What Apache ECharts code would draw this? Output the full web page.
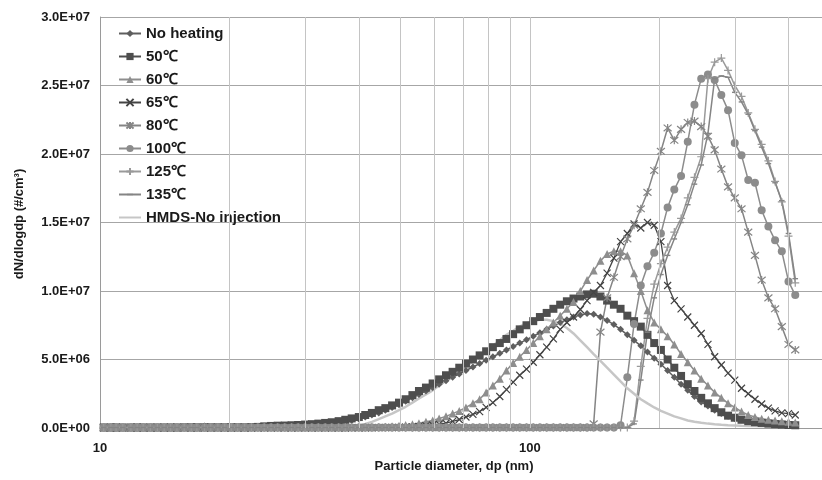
<!DOCTYPE html>
<html>
<head>
<meta charset="utf-8">
<script src="https://cdn.jsdelivr.net/npm/echarts@6/dist/echarts.min.js"></script>
<style>
html, body { margin: 0; padding: 0; background: #fff; }
#chart { width: 822px; height: 480px; }
</style>
</head>
<body>
<div id="chart"></div>
<script>
// SMPS bin mid diameters (nm), 64 channels/decade
var diameters = [
	10.2, 10.6, 10.9, 11.3, 11.8, 12.2, 12.6, 13.1, 13.6, 14.1,
	14.6, 15.1, 15.7, 16.3, 16.8, 17.5, 18.1, 18.8, 19.5, 20.2,
	20.9, 21.7, 22.5, 23.3, 24.1, 25.0, 25.9, 26.9, 27.9, 28.9,
	30.0, 31.1, 32.2, 33.4, 34.6, 35.9, 37.2, 38.5, 40.0, 41.4,
	42.9, 44.5, 46.1, 47.8, 49.6, 51.4, 53.3, 55.2, 57.3, 59.4,
	61.5, 63.8, 66.1, 68.5, 71.0, 73.7, 76.4, 79.1, 82.0, 85.1,
	88.2, 91.4, 94.7, 98.2, 101.8, 105.5, 109.4, 113.4, 117.6, 121.9,
	126.3, 131.0, 135.8, 140.7, 145.9, 151.2, 156.8, 162.5, 168.5, 174.7,
	181.1, 187.7, 194.6, 201.7, 209.1, 216.7, 224.7, 232.9, 241.4, 250.3,
	259.5, 269.0, 278.8, 289.0, 299.6, 310.6, 322.0, 333.8, 346.0, 358.7,
	371.8, 385.4, 399.5, 414.2
];

// dN/dlogdp in units of 1E+06 #/cm3
var noHeating = [
	0.03, 0.03, 0.03, 0.03, 0.03, 0.03, 0.03, 0.03, 0.03, 0.03,
	0.03, 0.03, 0.03, 0.04, 0.06, 0.15, 0.05, 0.03, 0.03, 0.04,
	0.04, 0.05, 0.05, 0.06, 0.06, 0.07, 0.08, 0.09, 0.1, 0.11,
	0.13, 0.16, 0.2, 0.25, 0.3, 0.36, 0.45, 0.55, 0.65, 0.8,
	0.95, 1.1, 1.3, 1.5, 1.7, 1.95, 2.2, 2.45, 2.7, 2.95,
	3.2, 3.45, 3.7, 3.95, 4.2, 4.45, 4.7, 4.95, 5.2, 5.45,
	5.7, 5.95, 6.2, 6.45, 6.7, 6.95, 7.2, 7.45, 7.7, 7.9,
	8.1, 8.25, 8.35, 8.3, 8.1, 7.85, 7.55, 7.2, 6.8, 6.4,
	6.0, 5.55, 5.1, 4.65, 4.2, 3.7, 3.2, 2.75, 2.3, 1.9,
	1.6, 1.3, 1.05, 0.85, 0.7, 0.6, 0.5, 0.45, 0.4, 0.37,
	0.34, 0.32, 0.3, 0.28
];
var t50 = [
	0.04, 0.04, 0.04, 0.04, 0.04, 0.04, 0.04, 0.04, 0.04, 0.04,
	0.04, 0.04, 0.05, 0.05, 0.05, 0.05, 0.05, 0.05, 0.05, 0.05,
	0.05, 0.05, 0.06, 0.08, 0.12, 0.15, 0.17, 0.18, 0.2, 0.22,
	0.25, 0.28, 0.32, 0.37, 0.42, 0.5, 0.6, 0.7, 0.8, 0.95,
	1.1, 1.3, 1.45, 1.65, 1.85, 2.1, 2.4, 2.7, 2.95, 3.25,
	3.55, 3.85, 4.1, 4.4, 4.7, 5.0, 5.3, 5.6, 5.9, 6.2,
	6.5, 6.85, 7.2, 7.5, 7.8, 8.1, 8.4, 8.7, 9.0, 9.25,
	9.45, 9.6, 9.75, 9.8, 9.6, 9.3, 9.0, 8.7, 8.2, 7.8,
	7.4, 6.8, 6.2, 5.7, 5.0, 4.4, 3.8, 3.2, 2.7, 2.2,
	1.8, 1.45, 1.15, 0.9, 0.75, 0.6, 0.5, 0.42, 0.37, 0.32,
	0.28, 0.25, 0.22, 0.2
];
var t60 = [
	0.03, 0.03, 0.03, 0.03, 0.03, 0.03, 0.03, 0.03, 0.03, 0.03,
	0.03, 0.03, 0.03, 0.03, 0.03, 0.03, 0.03, 0.03, 0.03, 0.03,
	0.03, 0.03, 0.03, 0.03, 0.03, 0.03, 0.03, 0.03, 0.03, 0.03,
	0.03, 0.03, 0.03, 0.03, 0.04, 0.04, 0.04, 0.05, 0.05, 0.05,
	0.06, 0.08, 0.1, 0.13, 0.17, 0.22, 0.28, 0.35, 0.45, 0.55,
	0.7, 0.85, 1.05, 1.25, 1.5, 1.8, 2.1, 2.6, 3.1, 3.6,
	4.2, 4.75, 5.2, 5.7, 6.2, 6.7, 7.2, 7.7, 8.2, 8.7,
	9.2, 10.0, 10.8, 11.5, 12.2, 12.7, 12.9, 12.9, 12.6, 11.3,
	10.0, 8.6, 7.7, 7.2, 6.7, 6.1, 5.4, 4.8, 4.2, 3.6,
	3.1, 2.6, 2.2, 1.8, 1.5, 1.2, 0.95, 0.8, 0.68, 0.6,
	0.55, 0.5, 0.45, 0.4
];
var t65 = [
	0.02, 0.02, 0.02, 0.02, 0.02, 0.02, 0.02, 0.02, 0.02, 0.02,
	0.02, 0.02, 0.02, 0.02, 0.02, 0.02, 0.02, 0.02, 0.02, 0.02,
	0.02, 0.02, 0.02, 0.02, 0.02, 0.02, 0.02, 0.02, 0.02, 0.02,
	0.02, 0.02, 0.02, 0.02, 0.02, 0.02, 0.02, 0.02, 0.02, 0.02,
	0.03, 0.03, 0.04, 0.04, 0.05, 0.06, 0.08, 0.12, 0.17, 0.22,
	0.28, 0.35, 0.48, 0.62, 0.8, 1.0, 1.2, 1.5, 1.85, 2.3,
	2.8, 3.35, 3.85, 4.3, 4.8, 5.35, 5.9, 6.5, 7.2, 7.7,
	8.1, 8.65, 9.3, 9.9, 10.4, 11.3, 12.4, 13.6, 14.2, 14.9,
	14.6, 15.0, 14.8, 13.6, 10.4, 9.3, 8.7, 8.1, 7.5, 6.9,
	6.1, 5.2, 4.6, 4.0, 3.5, 2.9, 2.5, 2.1, 1.75, 1.45,
	1.25, 1.1, 1.05, 0.95
];
var t80 = [
	0.03, 0.03, 0.03, 0.03, 0.03, 0.03, 0.03, 0.03, 0.03, 0.03,
	0.03, 0.03, 0.03, 0.03, 0.03, 0.03, 0.03, 0.03, 0.03, 0.03,
	0.03, 0.03, 0.03, 0.03, 0.03, 0.03, 0.03, 0.03, 0.03, 0.03,
	0.03, 0.03, 0.03, 0.03, 0.03, 0.03, 0.03, 0.03, 0.03, 0.03,
	0.03, 0.03, 0.03, 0.03, 0.03, 0.03, 0.03, 0.03, 0.03, 0.03,
	0.03, 0.03, 0.03, 0.03, 0.03, 0.03, 0.03, 0.03, 0.03, 0.03,
	0.03, 0.03, 0.03, 0.03, 0.03, 0.03, 0.03, 0.03, 0.03, 0.03,
	0.03, 0.03, 0.03, 0.3, 7.0, 9.5, 11.0, 12.5, 13.8, 14.8,
	16.0, 17.2, 18.8, 20.2, 21.9, 21.0, 21.8, 22.3, 22.4, 22.0,
	21.3, 20.3, 18.9, 17.6, 16.8, 16.0, 14.3, 12.6, 10.8, 9.5,
	8.7, 7.4, 6.1, 5.7
];
var t100 = [
	0.03, 0.03, 0.03, 0.03, 0.03, 0.03, 0.03, 0.03, 0.03, 0.03,
	0.03, 0.03, 0.03, 0.03, 0.03, 0.03, 0.03, 0.03, 0.03, 0.03,
	0.03, 0.03, 0.03, 0.03, 0.03, 0.03, 0.03, 0.03, 0.03, 0.03,
	0.03, 0.03, 0.03, 0.03, 0.03, 0.03, 0.03, 0.03, 0.03, 0.03,
	0.03, 0.03, 0.03, 0.03, 0.03, 0.03, 0.03, 0.03, 0.03, 0.03,
	0.03, 0.03, 0.03, 0.03, 0.03, 0.03, 0.03, 0.03, 0.03, 0.03,
	0.03, 0.03, 0.03, 0.03, 0.03, 0.03, 0.03, 0.03, 0.03, 0.03,
	0.03, 0.03, 0.03, 0.03, 0.03, 0.03, 0.03, 0.2, 3.7, 7.6,
	10.4, 11.8, 12.8, 14.2, 16.1, 17.4, 18.4, 20.9, 23.6, 25.5,
	25.8, 25.4, 24.3, 23.2, 20.8, 19.9, 18.1, 17.9, 15.9, 14.7,
	13.7, 12.9, 10.7, 9.7
];
var t125 = [
	0.04, 0.04, 0.04, 0.04, 0.04, 0.04, 0.04, 0.04, 0.04, 0.04,
	0.04, 0.04, 0.04, 0.04, 0.04, 0.04, 0.04, 0.04, 0.04, 0.04,
	0.04, 0.04, 0.04, 0.04, 0.04, 0.04, 0.04, 0.04, 0.04, 0.04,
	0.04, 0.04, 0.04, 0.04, 0.04, 0.04, 0.04, 0.04, 0.04, 0.04,
	0.04, 0.04, 0.04, 0.04, 0.04, 0.04, 0.04, 0.04, 0.04, 0.04,
	0.04, 0.04, 0.04, 0.04, 0.04, 0.04, 0.04, 0.04, 0.04, 0.04,
	0.04, 0.04, 0.04, 0.04, 0.04, 0.04, 0.04, 0.04, 0.04, 0.04,
	0.04, 0.04, 0.04, 0.04, 0.04, 0.04, 0.04, 0.04, 0.04, 0.5,
	4.5, 8.0, 10.5, 12.0, 13.2, 14.3, 15.3, 16.8, 18.3, 19.8,
	25.5, 26.7, 27.0, 26.1, 25.0, 24.2, 23.0, 21.8, 20.7, 19.5,
	18.0, 16.5, 14.0, 10.6
];
var t135 = [
	0.04, 0.04, 0.04, 0.04, 0.04, 0.04, 0.04, 0.04, 0.04, 0.04,
	0.04, 0.04, 0.04, 0.04, 0.04, 0.04, 0.04, 0.04, 0.04, 0.04,
	0.04, 0.04, 0.04, 0.04, 0.04, 0.04, 0.04, 0.04, 0.04, 0.04,
	0.04, 0.04, 0.04, 0.04, 0.04, 0.04, 0.04, 0.04, 0.04, 0.04,
	0.04, 0.04, 0.04, 0.04, 0.04, 0.04, 0.04, 0.04, 0.04, 0.04,
	0.04, 0.04, 0.04, 0.04, 0.04, 0.04, 0.04, 0.04, 0.04, 0.04,
	0.04, 0.04, 0.04, 0.04, 0.04, 0.04, 0.04, 0.04, 0.04, 0.04,
	0.04, 0.04, 0.04, 0.04, 0.04, 0.04, 0.04, 0.04, 0.04, 0.3,
	3.5, 7.0, 9.5, 11.2, 12.6, 13.8, 15.0, 16.3, 17.8, 19.2,
	21.5, 25.5, 25.7, 25.6, 24.5, 23.8, 22.9, 21.7, 20.5, 19.3,
	17.9, 16.6, 14.2, 10.9
];
var hmdsNoInjection = [
	0.03, 0.03, 0.03, 0.03, 0.03, 0.03, 0.03, 0.03, 0.03, 0.03,
	0.03, 0.03, 0.03, 0.03, 0.03, 0.03, 0.03, 0.03, 0.03, 0.03,
	0.03, 0.03, 0.03, 0.03, 0.03, 0.03, 0.03, 0.03, 0.03, 0.03,
	0.03, 0.03, 0.03, 0.03, 0.05, 0.08, 0.12, 0.16, 0.2, 0.3,
	0.45, 0.65, 0.85, 1.05, 1.3, 1.55, 1.85, 2.15, 2.45, 2.75,
	3.1, 3.45, 3.8, 4.15, 4.5, 4.85, 5.2, 5.6, 6.0, 6.4,
	6.8, 7.1, 7.4, 7.65, 7.8, 7.9, 7.9, 7.8, 7.6, 7.3,
	6.9, 6.4, 5.9, 5.4, 4.9, 4.4, 3.9, 3.4, 2.9, 2.5,
	2.1, 1.8, 1.5, 1.25, 1.05, 0.85, 0.7, 0.55, 0.45, 0.38,
	0.32, 0.27, 0.23, 0.2, 0.18, 0.16, 0.15, 0.14, 0.13, 0.12,
	0.11, 0.1, 0.1, 0.1
];

var seriesNames = ['No heating', '50℃', '60℃', '65℃', '80℃', '100℃', '125℃', '135℃', 'HMDS-No injection'];
var yTicks = [0, 5, 10, 15, 20, 25, 30];
var minorGridX = [20, 30, 40, 50, 60, 70, 80, 90, 100, 200, 300, 400];

var FONT = "'Liberation Sans', Arial, sans-serif";

// 3.0E+07 style labels (values are in 1E+06)
function sci(v) {
	var n = v * 1e6;
	if (n === 0) return '0.0E+00';
	var e = Math.floor(Math.log10(n) + 1e-9);
	var m = n / Math.pow(10, e);
	return m.toFixed(1) + 'E+' + (e < 10 ? '0' + e : e);
}

var SYM_X = 'path://M0,0L10,10M10,0L0,10';
var SYM_STAR = 'path://M0,0L10,10M10,0L0,10M5,-1L5,11';
var SYM_PLUS = 'path://M5,0L5,10M0,5L10,5';
// moves keep the bounding box square so the dash stays a dash
var SYM_DASH = 'path://M0,0M10,10M1,4L9,4L9,6L1,6Z';
var SYM_NONE = 'path://M0,0M10,10';

function mkLine(name, values, color, symbol, size, opts) {
	opts = opts || {};
	return {
		name: name,
		type: 'line',
		data: diameters.map(function (d, i) { return [d, values[i]]; }),
		symbol: symbol,
		symbolSize: size,
		showSymbol: !opts.noSymbol,
		showAllSymbol: true,
		animation: false,
		lineStyle: { color: color, width: opts.width || 1.5 },
		itemStyle: {
			color: color,
			borderColor: color,
			borderWidth: opts.stroke ? 1.2 : 0
		},
		emphasis: { disabled: true }
	};
}

var option = {
	backgroundColor: '#fff',
	animation: false,
	grid: {
		left: 100,
		top: 17,
		bottom: 52,
		right: 0,
		outerBoundsMode: 'none'
	},
	legend: {
		orient: 'vertical',
		left: 118,
		top: 26,
		padding: 0,
		itemWidth: 22,
		itemHeight: 9,
		itemGap: 8,
		data: seriesNames,
		textStyle: {
			fontFamily: FONT,
			fontSize: 15,
			fontWeight: 'bold',
			color: '#1a1a1a'
		}
	},
	xAxis: {
		type: 'log',
		logBase: 10,
		min: 10,
		max: 478,
		axisLine: { lineStyle: { color: '#9a9a9a' } },
		axisTick: { show: false },
		splitLine: { show: false },
		axisLabel: {
			margin: 14,
			fontFamily: FONT,
			fontSize: 13,
			fontWeight: 'bold',
			color: '#1a1a1a',
			formatter: function (v) {
				return (v === 10 || v === 100) ? String(v) : '';
			}
		}
	},
	yAxis: {
		type: 'value',
		min: yTicks[0],
		max: yTicks[yTicks.length - 1],
		interval: 5,
		axisLine: { show: true, lineStyle: { color: '#9a9a9a' } },
		axisTick: { show: false },
		splitLine: { lineStyle: { color: '#a6a6a6', width: 1 } },
		axisLabel: {
			margin: 10,
			fontFamily: FONT,
			fontSize: 13,
			fontWeight: 'bold',
			color: '#1a1a1a',
			formatter: sci
		}
	},
	graphic: [
		{
			type: 'text',
			x: 454,
			y: 466,
			style: {
				text: 'Particle diameter, dp (nm)',
				font: 'bold 13px ' + FONT,
				fill: '#1a1a1a',
				textAlign: 'center',
				textVerticalAlign: 'middle'
			}
		},
		{
			type: 'text',
			x: 19,
			y: 224,
			rotation: Math.PI / 2,
			style: {
				text: 'dN/dlogdp (#/cm³)',
				font: 'bold 13px ' + FONT,
				fill: '#1a1a1a',
				textAlign: 'center',
				textVerticalAlign: 'middle'
			}
		}
	],
	series: [
		{
			name: 'grid',
			type: 'line',
			data: [],
			z: 1,
			silent: true,
			markLine: {
				silent: true,
				symbol: ['none', 'none'],
				label: { show: false },
				animation: false,
				lineStyle: { color: '#c4c4c4', width: 1, type: 'solid' },
				data: minorGridX.map(function (v) { return { xAxis: v }; })
			}
		},
		mkLine(seriesNames[0], noHeating, '#5e5e5e', 'diamond', 7),
		mkLine(seriesNames[1], t50, '#4e4e4e', 'rect', 8),
		mkLine(seriesNames[2], t60, '#8e8e8e', 'triangle', 8),
		mkLine(seriesNames[3], t65, '#444444', SYM_X, 7, { stroke: true, width: 1.3 }),
		mkLine(seriesNames[4], t80, '#858585', SYM_STAR, 8, { stroke: true }),
		mkLine(seriesNames[5], t100, '#8c8c8c', 'circle', 8),
		mkLine(seriesNames[6], t125, '#9a9a9a', SYM_PLUS, 8, { stroke: true }),
		mkLine(seriesNames[7], t135, '#858585', SYM_DASH, 7),
		mkLine(seriesNames[8], hmdsNoInjection, '#c6c6c6', SYM_NONE, 0, { width: 2.5, noSymbol: true })
	]
};

var chart = echarts.init(document.getElementById('chart'));
chart.setOption(option);
</script>
</body>
</html>
